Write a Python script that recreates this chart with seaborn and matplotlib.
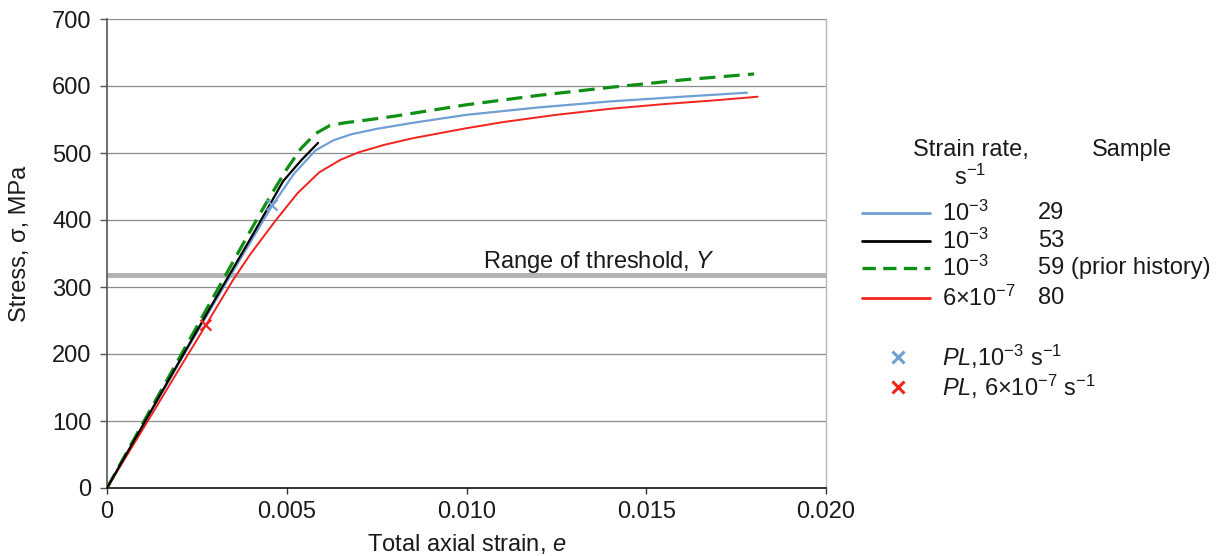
import matplotlib
matplotlib.use("Agg")
import matplotlib.pyplot as plt
from matplotlib.lines import Line2D
import seaborn as sns
import pandas as pd

# Sample 29, strain rate 1e-3 /s
strain_29 = [0, 0.0010, 0.0020, 0.0030, 0.0040, 0.0046, 0.0052, 0.0058, 0.0063,
             0.0068, 0.0075, 0.0085, 0.0100, 0.0120, 0.0140, 0.0160, 0.0178]
stress_29 = [0, 93, 186, 278, 368, 422, 469, 504, 519,
             528, 536, 545, 557, 568, 577, 584, 590]

# Sample 53, strain rate 1e-3 /s
strain_53 = [0, 0.0010, 0.0020, 0.0030, 0.0040, 0.0049, 0.0054, 0.00587]
stress_53 = [0, 94, 188, 281, 373, 458, 489, 515]

# Sample 59 (prior history), strain rate 1e-3 /s
strain_59 = [0, 0.0010, 0.0020, 0.0030, 0.0040, 0.0045, 0.0050, 0.0054, 0.0058,
             0.0062, 0.0066, 0.0072, 0.0080, 0.0100, 0.0120, 0.0140, 0.0160, 0.0180]
stress_59 = [0, 97, 193, 289, 385, 432, 476, 507, 529,
             541, 545, 549, 555, 572, 586, 598, 609, 618]

# Sample 80, strain rate 6e-7 /s
strain_80 = [0, 0.0010, 0.0020, 0.00275, 0.0035, 0.0040, 0.0047, 0.0053, 0.0059,
             0.0065, 0.0070, 0.0077, 0.0085, 0.0100, 0.0110, 0.0125, 0.0140,
             0.0155, 0.0170, 0.0181]
stress_80 = [0, 88, 177, 243, 310, 350, 400, 440, 471,
             490, 501, 512, 522, 537, 546, 557, 566,
             573, 579, 584]

# Proportional limits
pl_strain = [0.00459, 0.00275]
pl_stress = [422, 243]
pl_rate = ["1e-3", "6e-7"]

# Threshold range
threshold_low, threshold_high = 313, 321

x_ticks = [0, 0.005, 0.010, 0.015, 0.020]
x_tick_labels = ["0", "0.005", "0.010", "0.015", "0.020"]
y_ticks = [0, 100, 200, 300, 400, 500, 600, 700]

BLUE = "#6f9fd4"
BLACK = "#000000"
GREEN = "#0f8f14"
RED = "#f2231c"
GRID = "#8c8c8c"
TEXT = "#1a1a1a"

sns.set_theme(style="white")
plt.rcParams["font.family"] = ["Liberation Sans", "DejaVu Sans"]
plt.rcParams["mathtext.fontset"] = "custom"
plt.rcParams["mathtext.rm"] = "Liberation Sans"
plt.rcParams["mathtext.it"] = "Liberation Sans:italic"
plt.rcParams["mathtext.default"] = "regular"

FS = 17

fig = plt.figure(figsize=(12.22, 5.56), dpi=100)
ax = fig.add_axes([107 / 1222, 1 - 488 / 556, (826 - 107) / 1222, (488 - 19) / 556])

for y in y_ticks[1:]:
    ax.axhline(y, color=GRID, lw=0.9, zorder=0)

ax.axhspan(threshold_low, threshold_high, color="#b3b3b3", lw=0, zorder=1)
ax.text(0.01046, 337, "Range of threshold, $\\mathit{Y}$", fontsize=FS,
        ha="left", va="center", color=TEXT)

curves = [
    (strain_29, stress_29, BLUE, "-", 1.6),
    (strain_59, stress_59, GREEN, (0, (5, 2.6)), 2.3),
    (strain_80, stress_80, RED, "-", 1.4),
    (strain_53, stress_53, BLACK, "-", 1.6),
]
for xs, ys, col, ls, lw in curves:
    df = pd.DataFrame({"strain": xs, "stress": ys})
    sns.lineplot(data=df, x="strain", y="stress", ax=ax, sort=False,
                 color=col, linestyle=ls, lw=lw, zorder=3)

pl_df = pd.DataFrame({"strain": pl_strain, "stress": pl_stress, "rate": pl_rate})
sns.scatterplot(data=pl_df, x="strain", y="stress", hue="rate",
                palette={"1e-3": BLUE, "6e-7": RED}, marker="x", s=60,
                linewidth=1.6, ax=ax, legend=False, zorder=4)

ax.set_xlim(0, 0.020)
ax.set_ylim(0, 700)
ax.set_xticks(x_ticks)
ax.set_xticklabels(x_tick_labels)
ax.set_yticks(y_ticks)
ax.tick_params(axis="both", labelsize=FS, colors=TEXT)
ax.tick_params(axis="x", direction="out", length=4, width=1, color="#333333", pad=5)
ax.tick_params(axis="y", direction="out", length=5, width=1, color="#555555", pad=6)
ax.tick_params(bottom=True, left=True)

ax.set_xlabel("Total axial strain, $\\mathit{e}$", fontsize=FS, color=TEXT)
ax.set_ylabel("Stress, σ, MPa", fontsize=FS, color=TEXT)
ax.xaxis.set_label_coords(0.5, -0.119)
ax.yaxis.set_label_coords(-0.121, 0.52)
ax.xaxis.label.set_va("center")
ax.yaxis.label.set_va("center")

ax.spines["top"].set_visible(False)
ax.spines["right"].set_color("#b8b8b8")
ax.spines["right"].set_linewidth(1)
ax.spines["left"].set_color("#555555")
ax.spines["left"].set_linewidth(1.2)
ax.spines["bottom"].set_color("#111111")
ax.spines["bottom"].set_linewidth(1.2)


def fx(px):
    return px / 1222


def fy(py):
    return 1 - py / 556


# Legend table
fig.text(fx(971), fy(150), "Strain rate,", fontsize=FS, ha="center", va="center", color=TEXT)
fig.text(fx(970), fy(177), "s$^{−1}$", fontsize=FS, ha="center", va="center", color=TEXT)
fig.text(fx(1132), fy(150), "Sample", fontsize=FS, ha="center", va="center", color=TEXT)

rows = [
    (213, BLUE, "-", 2.0, "10$^{−3}$", "29"),
    (241, BLACK, "-", 2.0, "10$^{−3}$", "53"),
    (268, GREEN, (0, (4, 2.2)), 2.4, "10$^{−3}$", "59 (prior history)"),
    (298, RED, "-", 2.0, "6×10$^{−7}$", "80"),
]
for py, col, ls, lw, rate, sample in rows:
    fig.add_artist(Line2D([fx(862), fx(930)], [fy(py), fy(py)], color=col,
                          linestyle=ls, lw=lw, transform=fig.transFigure))
    fig.text(fx(942), fy(py), rate, fontsize=FS, ha="left", va="center", color=TEXT)
    fig.text(fx(1038), fy(py), sample, fontsize=FS, ha="left", va="center", color=TEXT)

marker_rows = [
    (357, BLUE, "$\\mathit{PL}$,10$^{−3}$ s$^{−1}$"),
    (387, RED, "$\\mathit{PL}$, 6×10$^{−7}$ s$^{−1}$"),
]
for py, col, label in marker_rows:
    fig.add_artist(Line2D([fx(898)], [fy(py)], color=col, marker="x", ms=9, mew=2.2,
                          linestyle="none", transform=fig.transFigure))
    fig.text(fx(942), fy(py), label, fontsize=FS, ha="left", va="center", color=TEXT)

fig.savefig("out.png", dpi=100)
